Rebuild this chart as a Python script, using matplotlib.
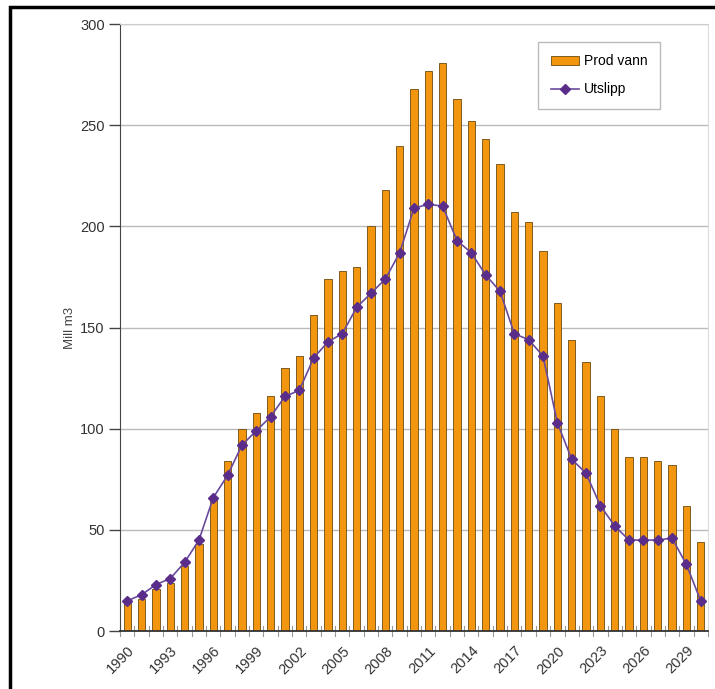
import numpy as np
import matplotlib
matplotlib.use("Agg")
import matplotlib.pyplot as plt
from matplotlib.patches import Rectangle

plt.rcParams['font.family'] = ['Liberation Sans', 'DejaVu Sans']

# data
years = list(range(1990, 2031))
prod_vann = [14, 16, 21, 24, 32, 43, 65, 84, 100, 108,
             116, 130, 136, 156, 174, 178, 180, 200, 218, 240,
             268, 277, 281, 263, 252, 243, 231, 207, 202, 188,
             162, 144, 133, 116, 100, 86, 86, 84, 82, 62,
             44]
utslipp = [15, 18, 23, 26, 34, 45, 66, 77, 92, 99,
           106, 116, 119, 135, 143, 147, 160, 167, 174, 187,
           209, 211, 210, 193, 187, 176, 168, 147, 144, 136,
           103, 85, 78, 62, 52, 45, 45, 45, 46, 33,
           15]
tick_years = list(range(1990, 2030, 3))

fig = plt.figure(figsize=(7.15, 6.89), dpi=100)
ax = fig.add_axes([0.168, 0.084, 0.822, 0.881])

x = np.arange(len(years))
bars = ax.bar(x, prod_vann, width=0.5, color='#F2960F', edgecolor='#6b4a10',
              linewidth=0.6, label='Prod vann', zorder=2)
line, = ax.plot(x, utslipp, color='#6a4a9c', linewidth=1.2, marker='D', markersize=5,
                markerfacecolor='#5a2d8a', markeredgecolor='#5a2d8a', label='Utslipp', zorder=3)

ax.set_xlim(-0.5, len(years) - 0.5)
ax.set_ylim(0, 300)
ax.set_yticks(range(0, 301, 50))
ax.yaxis.grid(True, color='#bbbbbb', linewidth=1.0, zorder=0)
ax.set_axisbelow(True)

# labels every third year, small ticks at the category borders
ax.set_xticks([years.index(yr) for yr in tick_years])
ax.set_xticklabels([str(yr) for yr in tick_years], rotation=45, ha='right',
                   rotation_mode='anchor', fontsize=10.5, color='#333333')
ax.tick_params(axis='x', which='both', length=0, pad=9)
for xb in np.arange(-0.5, len(years), 1.0):
    ax.plot([xb, xb], [-2.5, 2.5], color='#999999', linewidth=0.8, clip_on=False, zorder=1)

ax.tick_params(axis='y', direction='out', length=8, width=1, color='#444444',
               labelsize=10.5, labelcolor='#333333', pad=3)

ax.spines['left'].set_color('#444444')
ax.spines['bottom'].set_color('#333333')
ax.spines['bottom'].set_linewidth(1.3)
ax.spines['top'].set_color('#cccccc')
ax.spines['right'].set_color('#dddddd')

ax.set_ylabel('Mill m3', fontsize=9.5, color='#444444', labelpad=3)

leg = ax.legend([bars, line], ['Prod vann', 'Utslipp'], loc='upper left',
                bbox_to_anchor=(0.700, 0.982), fontsize=10,
                frameon=True, fancybox=False, edgecolor='#aaaaaa',
                handlelength=2.0, handletextpad=0.4, borderpad=0.9, labelspacing=1.0)
leg.get_frame().set_linewidth(1.0)

# black frame around the picture
fig.patches.append(Rectangle((0.014, -0.05), 1.2, 1.04,
                             transform=fig.transFigure, fill=False,
                             edgecolor='black', linewidth=2.5))

fig.savefig('out.png', dpi=100)
